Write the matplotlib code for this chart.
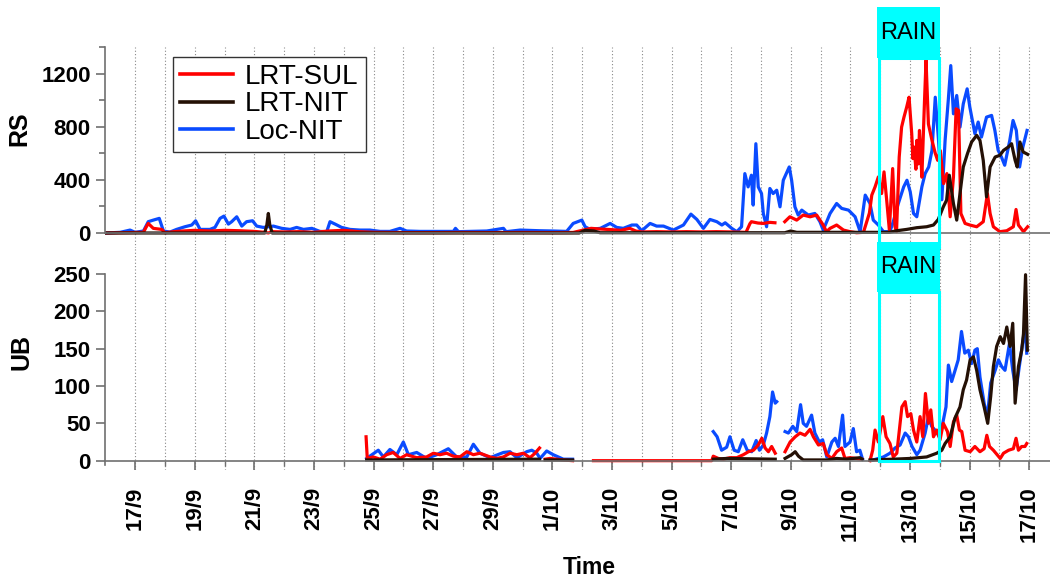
import numpy as np
import matplotlib
matplotlib.use("Agg")
import matplotlib.pyplot as plt
from matplotlib.patches import Rectangle
from matplotlib.transforms import blended_transform_factory

plt.rcParams["font.family"] = ["Liberation Sans", "DejaVu Sans"]

# time axis: days since 16/9 00:00
GAP = (np.nan, np.nan)
tick_days = [1, 3, 5, 7, 9, 11, 13, 15, 17, 19, 21, 23, 25, 27, 29, 31]
tick_labels = ["17/9", "19/9", "21/9", "23/9", "25/9", "27/9", "29/9", "1/10",
               "3/10", "5/10", "7/10", "9/10", "11/10", "13/10", "15/10", "17/10"]
rain_period = (25.95, 27.96)
series_names = ["LRT-SUL", "LRT-NIT", "Loc-NIT"]

# RS panel
rs_sul = [(0, 0), (1.28, 5), (1.36, 40), (1.44, 72), (1.61, 35), (1.89, 27), (2.0, 2), (2.3, 10),
          (2.6, 15), (3.0, 20), (3.5, 15), (4.0, 20), (4.5, 17), (5.0, 12), (5.35, 5), (5.47, 0),
          (5.6, 10), (6.0, 8), (6.5, 10), (7.0, 5), (7.5, 15), (8.0, 20), (8.5, 10), (9.0, 5),
          (10.0, 3), (11.0, 3), (12.0, 4), (13.0, 3), (14.0, 4), (15.0, 3), (15.7, 4), (16.0, 20),
          (16.3, 35), (16.6, 30), (17.0, 25), (17.3, 20), (17.6, 35), (17.8, 15), (18.0, 8),
          (18.5, 10), (19.0, 8), (19.5, 10), (20.0, 8), (20.5, 10), (21.0, 8), (21.5, 5),
          (21.63, 70), (21.68, 85), (21.9, 75), (22.08, 72), (22.3, 80), (22.47, 77), GAP,
          (22.8, 85), (22.97, 122), (23.2, 97), (23.42, 135), (23.65, 122), (23.87, 135),
          (24.09, 60), (24.2, 10), (24.32, 35), (24.54, 60), (24.77, 22), (24.99, 10), (25.21, 2),
          (25.44, 5), (25.64, 150), (25.72, 285), (25.83, 347), (25.94, 422), (26.05, 297),
          (26.13, 460), (26.22, 247), (26.31, 22), (26.42, 485), (26.5, 47), (26.55, 10),
          (26.64, 572), (26.72, 797), (26.8, 872), (26.89, 947), (26.97, 1022), (27.06, 747),
          (27.1, 560), (27.14, 647), (27.2, 480), (27.23, 697), (27.28, 520), (27.32, 772),
          (27.37, 560), (27.4, 420), (27.49, 1000), (27.54, 1300), (27.62, 820), (27.74, 697),
          (27.85, 600), (27.93, 547), (28.02, 620), (28.13, 372), (28.24, 447), (28.35, 122),
          (28.46, 422), (28.55, 935), (28.63, 922), (28.71, 147), (28.85, 72), (29.01, 60),
          (29.24, 47), (29.46, 85), (29.6, 297), (29.69, 147), (29.8, 47), (30.02, 10),
          (30.25, 17), (30.47, 47), (30.56, 177), (30.64, 60), (30.81, 10), (30.95, 47)]

rs_nit = [(0, 0), (5.35, 0), (5.42, 60), (5.47, 147), (5.52, 60), (5.6, 0), (15.9, 0), (16.1, 20),
          (16.4, 15), (16.6, 2), (22.8, 2), (23.0, 15), (23.2, 5), (26.3, 5), (26.56, 17),
          (26.89, 27), (27.23, 40), (27.56, 47), (27.79, 60), (27.95, 102), (28.12, 197),
          (28.23, 247), (28.32, 435), (28.46, 222), (28.57, 97), (28.68, 297), (28.79, 497),
          (28.93, 597), (29.07, 685), (29.24, 735), (29.35, 697), (29.46, 547), (29.57, 272),
          (29.69, 497), (29.86, 572), (30.02, 585), (30.14, 622), (30.3, 647), (30.41, 672),
          (30.53, 547), (30.6, 497), (30.69, 685), (30.8, 610), (30.95, 592)]

rs_loc = [(0, 0), (0.5, 5), (0.83, 22), (1.0, 5), (1.28, 15), (1.44, 85), (1.61, 97), (1.81, 110),
          (1.95, 15), (2.17, 7), (2.39, 27), (2.67, 47), (2.9, 60), (3.03, 92), (3.18, 27),
          (3.51, 27), (3.68, 42), (3.85, 110), (3.98, 127), (4.13, 67), (4.24, 85), (4.41, 122),
          (4.58, 52), (4.74, 85), (4.94, 92), (5.08, 52), (5.3, 42), (5.64, 52), (5.92, 35),
          (6.2, 27), (6.42, 42), (6.65, 27), (6.93, 35), (7.2, 12), (7.43, 10), (7.54, 85),
          (7.71, 67), (7.93, 42), (8.21, 27), (8.55, 22), (8.88, 22), (9.22, 12), (9.55, 12),
          (9.89, 35), (10.11, 15), (10.56, 12), (10.9, 12), (11.68, 12), (11.75, 35), (11.85, 10),
          (12.8, 15), (13.36, 35), (13.45, 10), (13.92, 22), (14.58, 17), (15.03, 15), (15.48, 12),
          (15.7, 72), (15.99, 97), (16.1, 47), (16.27, 27), (16.61, 35), (16.94, 72), (17.16, 42),
          (17.38, 35), (17.67, 60), (17.83, 60), (18.0, 17), (18.28, 72), (18.5, 52), (18.73, 52),
          (19.06, 22), (19.4, 60), (19.65, 142), (19.85, 102), (20.07, 35), (20.29, 102),
          (20.52, 85), (20.69, 60), (20.8, 77), (21.02, 35), (21.19, 10), (21.35, 47), (21.46, 447),
          (21.57, 347), (21.68, 435), (21.74, 210), (21.83, 672), (21.91, 347), (22.02, 297),
          (22.08, 147), (22.19, 47), (22.3, 335), (22.41, 297), (22.53, 322), (22.64, 197),
          (22.75, 397), (22.95, 497), (23.03, 397), (23.14, 197), (23.25, 135), (23.37, 172),
          (23.59, 135), (23.81, 147), (23.98, 85), (24.09, 22), (24.32, 147), (24.54, 222),
          (24.71, 185), (24.94, 172), (25.16, 122), (25.33, 10), (25.45, 200), (25.5, 285),
          (25.66, 222), (25.77, 97), (25.94, 60), (26.11, 10), (26.33, 10), (26.44, 85),
          (26.61, 222), (26.79, 347), (26.9, 397), (27.01, 310), (27.12, 147), (27.23, 122),
          (27.4, 347), (27.51, 447), (27.63, 497), (27.74, 622), (27.85, 1022), (27.96, 697),
          (28.07, 250), (28.18, 697), (28.29, 1010), (28.37, 1260), (28.46, 897), (28.57, 1035),
          (28.68, 797), (28.79, 972), (28.92, 1085), (29.01, 947), (29.18, 747), (29.29, 835),
          (29.4, 722), (29.57, 872), (29.74, 885), (29.85, 772), (29.96, 622), (30.07, 572),
          (30.18, 510), (30.35, 697), (30.46, 847), (30.57, 772), (30.68, 497), (30.79, 647),
          (30.93, 772)]

# UB panel
ub_sul = [(8.75, 32), (8.79, 3), (8.99, 5), (9.22, 2), (9.44, 8), (9.66, 11), (9.89, 3), (10.11, 8),
          (10.45, 4), (10.78, 5), (11.01, 10), (11.23, 8), (11.45, 10), (11.68, 6), (11.9, 5),
          (12.13, 12), (12.35, 8), (12.57, 10), (12.91, 5), (13.13, 3), (13.36, 5), (13.58, 10),
          (13.81, 8), (14.03, 10), (14.25, 4), (14.42, 10), (14.57, 17), GAP, (14.76, 2),
          (14.92, 3), (15.37, 1), (15.68, 0), GAP, (16.38, 0), (20.35, 0), (20.4, 6), (20.57, 3),
          (20.74, 2), (20.96, 4), (21.19, 4), (21.41, 8), (21.58, 12), (21.75, 14), (21.91, 21),
          (22.03, 30), (22.14, 17), (22.25, 12), (22.36, 19), (22.48, 10), GAP, (22.81, 12),
          (22.98, 25), (23.15, 32), (23.31, 37), (23.48, 34), (23.65, 42), (23.76, 32),
          (23.93, 21), (24.09, 23), (24.21, 8), (24.38, 3), (24.54, 12), (24.71, 17), (24.82, 3),
          (24.99, 4), (25.21, 3), (25.38, 2), GAP, (25.66, 0), (25.75, 14), (25.83, 41),
          (25.94, 25), (26.09, 59), (26.2, 32), (26.33, 23), (26.44, 5), (26.56, 10), (26.73, 72),
          (26.84, 79), (26.92, 59), (27.03, 63), (27.12, 41), (27.23, 25), (27.34, 59),
          (27.43, 32), (27.52, 90), (27.62, 50), (27.7, 68), (27.79, 32), (27.9, 41), (28.01, 28),
          (28.12, 50), (28.26, 39), (28.35, 19), (28.46, 52), (28.57, 61), (28.66, 41),
          (28.74, 39), (28.85, 14), (29.02, 12), (29.18, 19), (29.35, 12), (29.49, 16),
          (29.58, 34), (29.67, 19), (29.8, 14), (30.03, 3), (30.14, 10), (30.31, 14), (30.47, 16),
          (30.56, 30), (30.64, 14), (30.75, 19), (30.86, 19), (30.92, 23)]

ub_nit = [(8.77, 1), (14.57, 2), GAP, (14.76, 1), (15.68, 1), GAP, (20.4, 2), (20.85, 3),
          (22.48, 2), GAP, (22.81, 3), (23.03, 8), (23.15, 12), (23.26, 6), (23.42, 1), (24.21, 1),
          (24.54, 3), (24.88, 2), (25.32, 4), (25.4, 2), GAP, (25.66, 1), (26.44, 2), (27.01, 3),
          (27.56, 5), (27.9, 10), (28.07, 14), (28.18, 23), (28.35, 32), (28.51, 57), (28.68, 72),
          (28.79, 95), (28.9, 108), (29.02, 135), (29.13, 139), (29.24, 121), (29.35, 95),
          (29.49, 72), (29.61, 50), (29.71, 86), (29.8, 126), (29.91, 153), (30.03, 166),
          (30.14, 157), (30.25, 179), (30.36, 153), (30.45, 184), (30.53, 77), (30.64, 126),
          (30.75, 148), (30.81, 170), (30.88, 249), (30.94, 148)]

ub_loc = [(8.77, 3), (9.16, 14), (9.33, 5), (9.55, 15), (9.78, 8), (10.0, 25), (10.17, 8),
          (10.45, 11), (10.78, 3), (11.12, 8), (11.51, 16), (11.79, 5), (12.13, 5), (12.35, 22),
          (12.57, 10), (12.91, 4), (13.36, 11), (13.58, 12), (13.81, 4), (14.14, 12), (14.31, 14),
          (14.48, 10), (14.59, 3), (14.81, 13), (15.03, 8), (15.37, 2), (15.68, 2), GAP,
          (20.4, 39), (20.53, 32), (20.68, 14), (20.85, 18), (20.96, 32), (21.1, 14), (21.24, 12),
          (21.39, 28), (21.54, 14), (21.69, 12), (21.84, 27), (21.95, 14), (22.08, 21),
          (22.19, 37), (22.3, 59), (22.39, 92), (22.48, 77), (22.53, 79), GAP, (22.81, 39),
          (22.92, 37), (23.07, 46), (23.2, 39), (23.33, 75), (23.42, 50), (23.53, 46), (23.7, 61),
          (23.81, 37), (23.96, 25), (24.07, 28), (24.21, 5), (24.38, 25), (24.49, 30), (24.6, 19),
          (24.74, 61), (24.82, 19), (24.99, 25), (25.1, 43), (25.21, 12), (25.32, 14), (25.41, 2),
          GAP, (25.77, 1), (26.11, 5), (26.33, 10), (26.5, 17), (26.67, 21), (26.84, 37),
          (26.95, 32), (27.07, 19), (27.23, 8), (27.34, 14), (27.51, 37), (27.62, 59), (27.73, 46),
          (27.84, 41), (27.99, 32), (28.1, 50), (28.21, 72), (28.29, 128), (28.4, 106),
          (28.5, 119), (28.62, 135), (28.73, 173), (28.84, 144), (28.96, 148), (29.07, 130),
          (29.18, 148), (29.26, 150), (29.35, 112), (29.49, 77), (29.6, 59), (29.71, 104),
          (29.86, 121), (29.97, 135), (30.08, 126), (30.19, 121), (30.34, 157), (30.45, 121),
          (30.56, 95), (30.67, 126), (30.78, 157), (30.86, 179), (30.92, 144)]

RED = "#ff0000"
DARK = "#241005"
BLUE = "#0a4bff"
CYAN = "#00ffff"
GREY = "#707070"
LW = 2.3


def unzip(pairs):
    arr = np.array(pairs, dtype=float)
    return arr[:, 0], arr[:, 1]


fig = plt.figure(figsize=(10.5, 5.83), dpi=100)
ax1 = fig.add_axes([0.1003, 0.5746, 0.8997, 0.3448])
ax2 = fig.add_axes([0.1003, 0.1938, 0.8997, 0.3808])

lines = []
for ax, sul, nit, loc in [(ax1, rs_sul, rs_nit, rs_loc), (ax2, ub_sul, ub_nit, ub_loc)]:
    lb, = ax.plot(*unzip(loc), color=BLUE, lw=LW, zorder=2)
    lr, = ax.plot(*unzip(sul), color=RED, lw=LW, zorder=2.1)
    lk, = ax.plot(*unzip(nit), color=DARK, lw=LW, zorder=2.2)
    if ax is ax1:
        lines = [lr, lk, lb]

    ax.set_xlim(0, 31.7)
    ax.set_xticks(tick_days)
    ax.set_xticks(range(1, 32), minor=True)
    ax.grid(axis="x", which="both", linestyle=(0, (1, 2)), color="#888888", lw=0.8)
    ax.set_axisbelow(True)
    for s in ["top", "right"]:
        ax.spines[s].set_visible(False)
    ax.spines["bottom"].set_position(("data", 0))
    ax.spines["bottom"].set_color(GREY)
    ax.spines["bottom"].set_linewidth(1.2)
    ax.spines["left"].set_color(GREY)
    ax.spines["left"].set_linewidth(1.2)
    ax.tick_params(axis="y", which="both", color=GREY, width=1.2, labelsize=16, pad=4)
    ax.tick_params(axis="y", which="major", length=6.5)
    ax.tick_params(axis="y", which="minor", length=4.5)
    ax.patch.set_alpha(0)

# RS axis
ax1.set_ylim(-113, 1400)
ax1.set_yticks([0, 400, 800, 1200])
ax1.set_yticks([200, 600, 1000, 1400], minor=True)
ax1.spines["left"].set_bounds(0, 1400)
ax1.tick_params(axis="x", which="both", length=0, labelbottom=False)
for lab in ax1.get_yticklabels():
    lab.set_fontweight("bold")

# UB axis
ax2.set_ylim(-12.5, 284.8)
ax2.set_yticks([0, 50, 100, 150, 200, 250])
ax2.spines["left"].set_bounds(-6, 250)
ax2.set_xticklabels(tick_labels, rotation=90, fontsize=16, fontweight="bold")
ax2.tick_params(axis="x", which="major", length=6.5, width=1.2, color=GREY, pad=12)
ax2.tick_params(axis="x", which="minor", length=3.5, width=1.0, color=GREY)
for lab in ax2.get_yticklabels():
    lab.set_fontweight("bold")

# rain boxes
r0, r1 = rain_period
for ax, y_out0, y_out1, y_lab0, y_lab1 in [(ax1, 0.0, 0.945, 0.945, 1.199),
                                             (ax2, 0.042, 0.802, 0.802, 1.027)]:
    tr = blended_transform_factory(ax.transData, ax.transAxes)
    ax.add_patch(Rectangle((r0, y_out0), r1 - r0, y_out1 - y_out0, transform=tr,
                           fill=False, edgecolor=CYAN, lw=2.2, zorder=3, clip_on=False))
    ax.add_patch(Rectangle((r0 - 0.05, y_lab0), r1 - r0 + 0.1, y_lab1 - y_lab0, transform=tr,
                           facecolor=CYAN, edgecolor="none", zorder=3, clip_on=False))
    ax.text((r0 + r1) / 2, (y_lab0 + y_lab1) / 2, "RAIN", transform=tr, ha="center",
            va="center", fontsize=17, zorder=4)

leg = ax1.legend(lines, series_names, loc="upper left", bbox_to_anchor=(173 / 1050, 1 - 57 / 583),
                 bbox_transform=fig.transFigure, fontsize=20, handlelength=1.9,
                 handletextpad=0.45, labelspacing=0.05, borderpad=0.25, borderaxespad=0,
                 fancybox=False, framealpha=1)
leg.get_frame().set_edgecolor("#333333")
leg.get_frame().set_linewidth(1.0)
for h in leg.get_lines():
    h.set_linewidth(2.6)

fig.text(19 / 1050, 1 - 129 / 583, "RS", rotation=90, ha="center", va="center",
         fontsize=18, fontweight="bold")
fig.text(21 / 1050, 1 - 352 / 583, "UB", rotation=90, ha="center", va="center",
         fontsize=18, fontweight="bold")
fig.text(589 / 1050, 1 - 568 / 583, "Time", ha="center", va="center",
         fontsize=16.5, fontweight="bold")

fig.savefig("out.png", dpi=100)
